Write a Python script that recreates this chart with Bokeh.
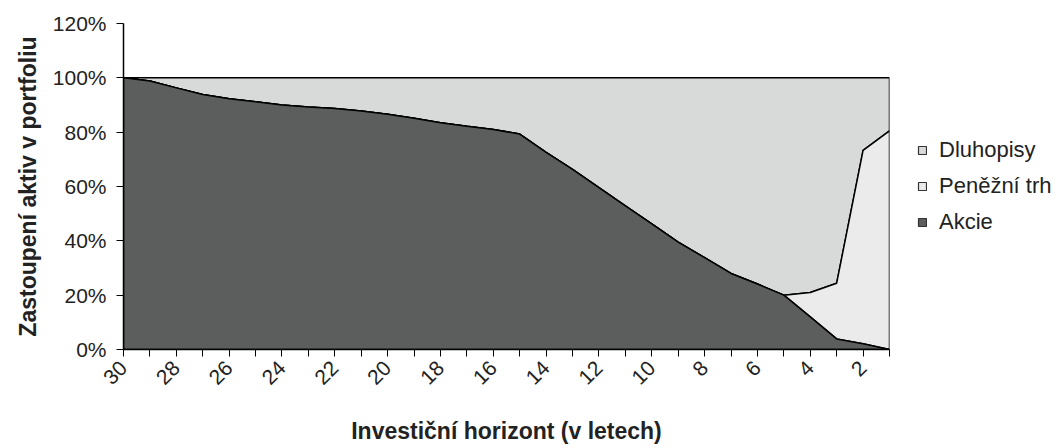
import math
from bokeh.plotting import figure
from bokeh.layouts import row
from bokeh.models import Range1d, FixedTicker, Legend, LegendItem
from bokeh.embed import file_html
from bokeh.resources import INLINE

# Investment horizon (years), left to right
years = [30, 29, 28, 27, 26, 25, 24, 23, 22, 21, 20, 19, 18, 17, 16,
         15, 14, 13, 12, 11, 10, 9, 8, 7, 6, 5, 4, 3, 2, 1]
# Share of assets in portfolio (%)
akcie = [100.0, 98.8, 96.3, 93.9, 92.3, 91.2, 90.0, 89.3, 88.7, 87.8, 86.6, 85.1, 83.5, 82.2, 81.0,
         79.3, 72.6, 66.3, 59.6, 52.9, 46.2, 39.5, 33.8, 28.0, 24.1, 20.0, 12.0, 3.9, 2.1, 0.0]
penezni_trh = [0, 0, 0, 0, 0, 0, 0, 0, 0, 0, 0, 0, 0, 0, 0,
               0, 0, 0, 0, 0, 0, 0, 0, 0, 0, 0, 9.0, 20.5, 71.2, 80.5]
dluhopisy = [round(100 - a - m, 1) for a, m in zip(akcie, penezni_trh)]
tick_labels = {y: (str(y) if y % 2 == 0 else "") for y in years}
y_ticks = [0, 20, 40, 60, 80, 100, 120]
series_names = ["Dluhopisy", "Peněžní trh", "Akcie"]

FONT = "Liberation Sans"
C_AKCIE = "#5c5d5d"
C_PT = "#ebebeb"
C_DLUH = "#d8d9d9"
colors = [C_DLUH, C_PT, C_AKCIE]

p = figure(width=893, height=446, output_backend="svg", toolbar_location=None,
           x_range=Range1d(30, 1), y_range=Range1d(0, 120),
           min_border_left=123, min_border_right=4, min_border_top=23, min_border_bottom=96)
p.outline_line_color = None
p.background_fill_color = "white"

lvl1 = akcie
lvl2 = [a + m for a, m in zip(akcie, penezni_trh)]
lvl3 = [a + m + d for a, m, d in zip(akcie, penezni_trh, dluhopisy)]
zero = [0] * len(years)

def poly(top, bottom):
    return list(years) + list(years[::-1]), list(top) + list(bottom[::-1])

for top, bot, col in [(lvl3, lvl2, C_DLUH), (lvl2, lvl1, C_PT), (lvl1, zero, C_AKCIE)]:
    xs, ys = poly(top, bot)
    p.patch(xs, ys, fill_color=col, line_color="black", line_width=1.5)

# axes
p.xaxis.ticker = FixedTicker(ticks=years)
p.xaxis.major_label_overrides = tick_labels
p.xaxis.major_label_orientation = math.pi / 4
p.yaxis.ticker = FixedTicker(ticks=y_ticks)
p.yaxis.major_label_overrides = {v: f"{v}%" for v in y_ticks}
for ax in (p.xaxis, p.yaxis):
    ax.axis_line_color = "black"
    ax.axis_line_width = 1.5
    ax.major_tick_line_color = "black"
    ax.major_tick_out = 7
    ax.major_tick_in = 0
    ax.minor_tick_line_color = None
    ax.major_label_text_font = FONT
    ax.major_label_text_font_size = "21px"
    ax.major_label_text_color = "#222222"
    ax.axis_label_text_font = FONT
    ax.axis_label_text_font_size = "23px"
    ax.axis_label_text_font_style = "bold"
    ax.axis_label_text_color = "#222222"
p.yaxis.major_label_standoff = 10
p.xaxis.major_label_standoff = 8
p.xaxis.axis_label = "Investiční horizont (v letech)"
p.yaxis.axis_label = "Zastoupení aktiv v portfoliu"
p.xaxis.axis_label_standoff = 24
p.yaxis.axis_label_standoff = 9

p.xgrid.visible = False
p.ygrid.ticker = FixedTicker(ticks=[120])
p.ygrid.grid_line_color = "#333333"
p.ygrid.grid_line_width = 1

# legend in a side figure
lg = figure(width=164, height=446, output_backend="svg", toolbar_location=None,
            x_range=Range1d(0, 1), y_range=Range1d(0, 1),
            min_border_left=0, min_border_right=0, min_border_top=23, min_border_bottom=96)
lg.axis.visible = False
lg.grid.visible = False
lg.outline_line_color = None
items = []
for name, col in zip(series_names, colors):
    r = lg.patch([-10, -9, -9], [-10, -10, -9], fill_color=col, line_color="#333333",
                 line_width=1.2)
    items.append(LegendItem(label=name, renderers=[r]))
legend = Legend(items=items, location="left")
legend.background_fill_alpha = 0
legend.border_line_color = None
legend.label_text_font = FONT
legend.label_text_font_size = "22px"
legend.label_text_color = "#222222"
legend.glyph_width = 10
legend.glyph_height = 10
legend.label_standoff = 12
legend.label_height = 22
legend.spacing = 10
legend.padding = 0
legend.margin = 24
lg.add_layout(legend, "center")

layout = row(p, lg, spacing=0)
open("out.html", "w").write(file_html(layout, INLINE))
